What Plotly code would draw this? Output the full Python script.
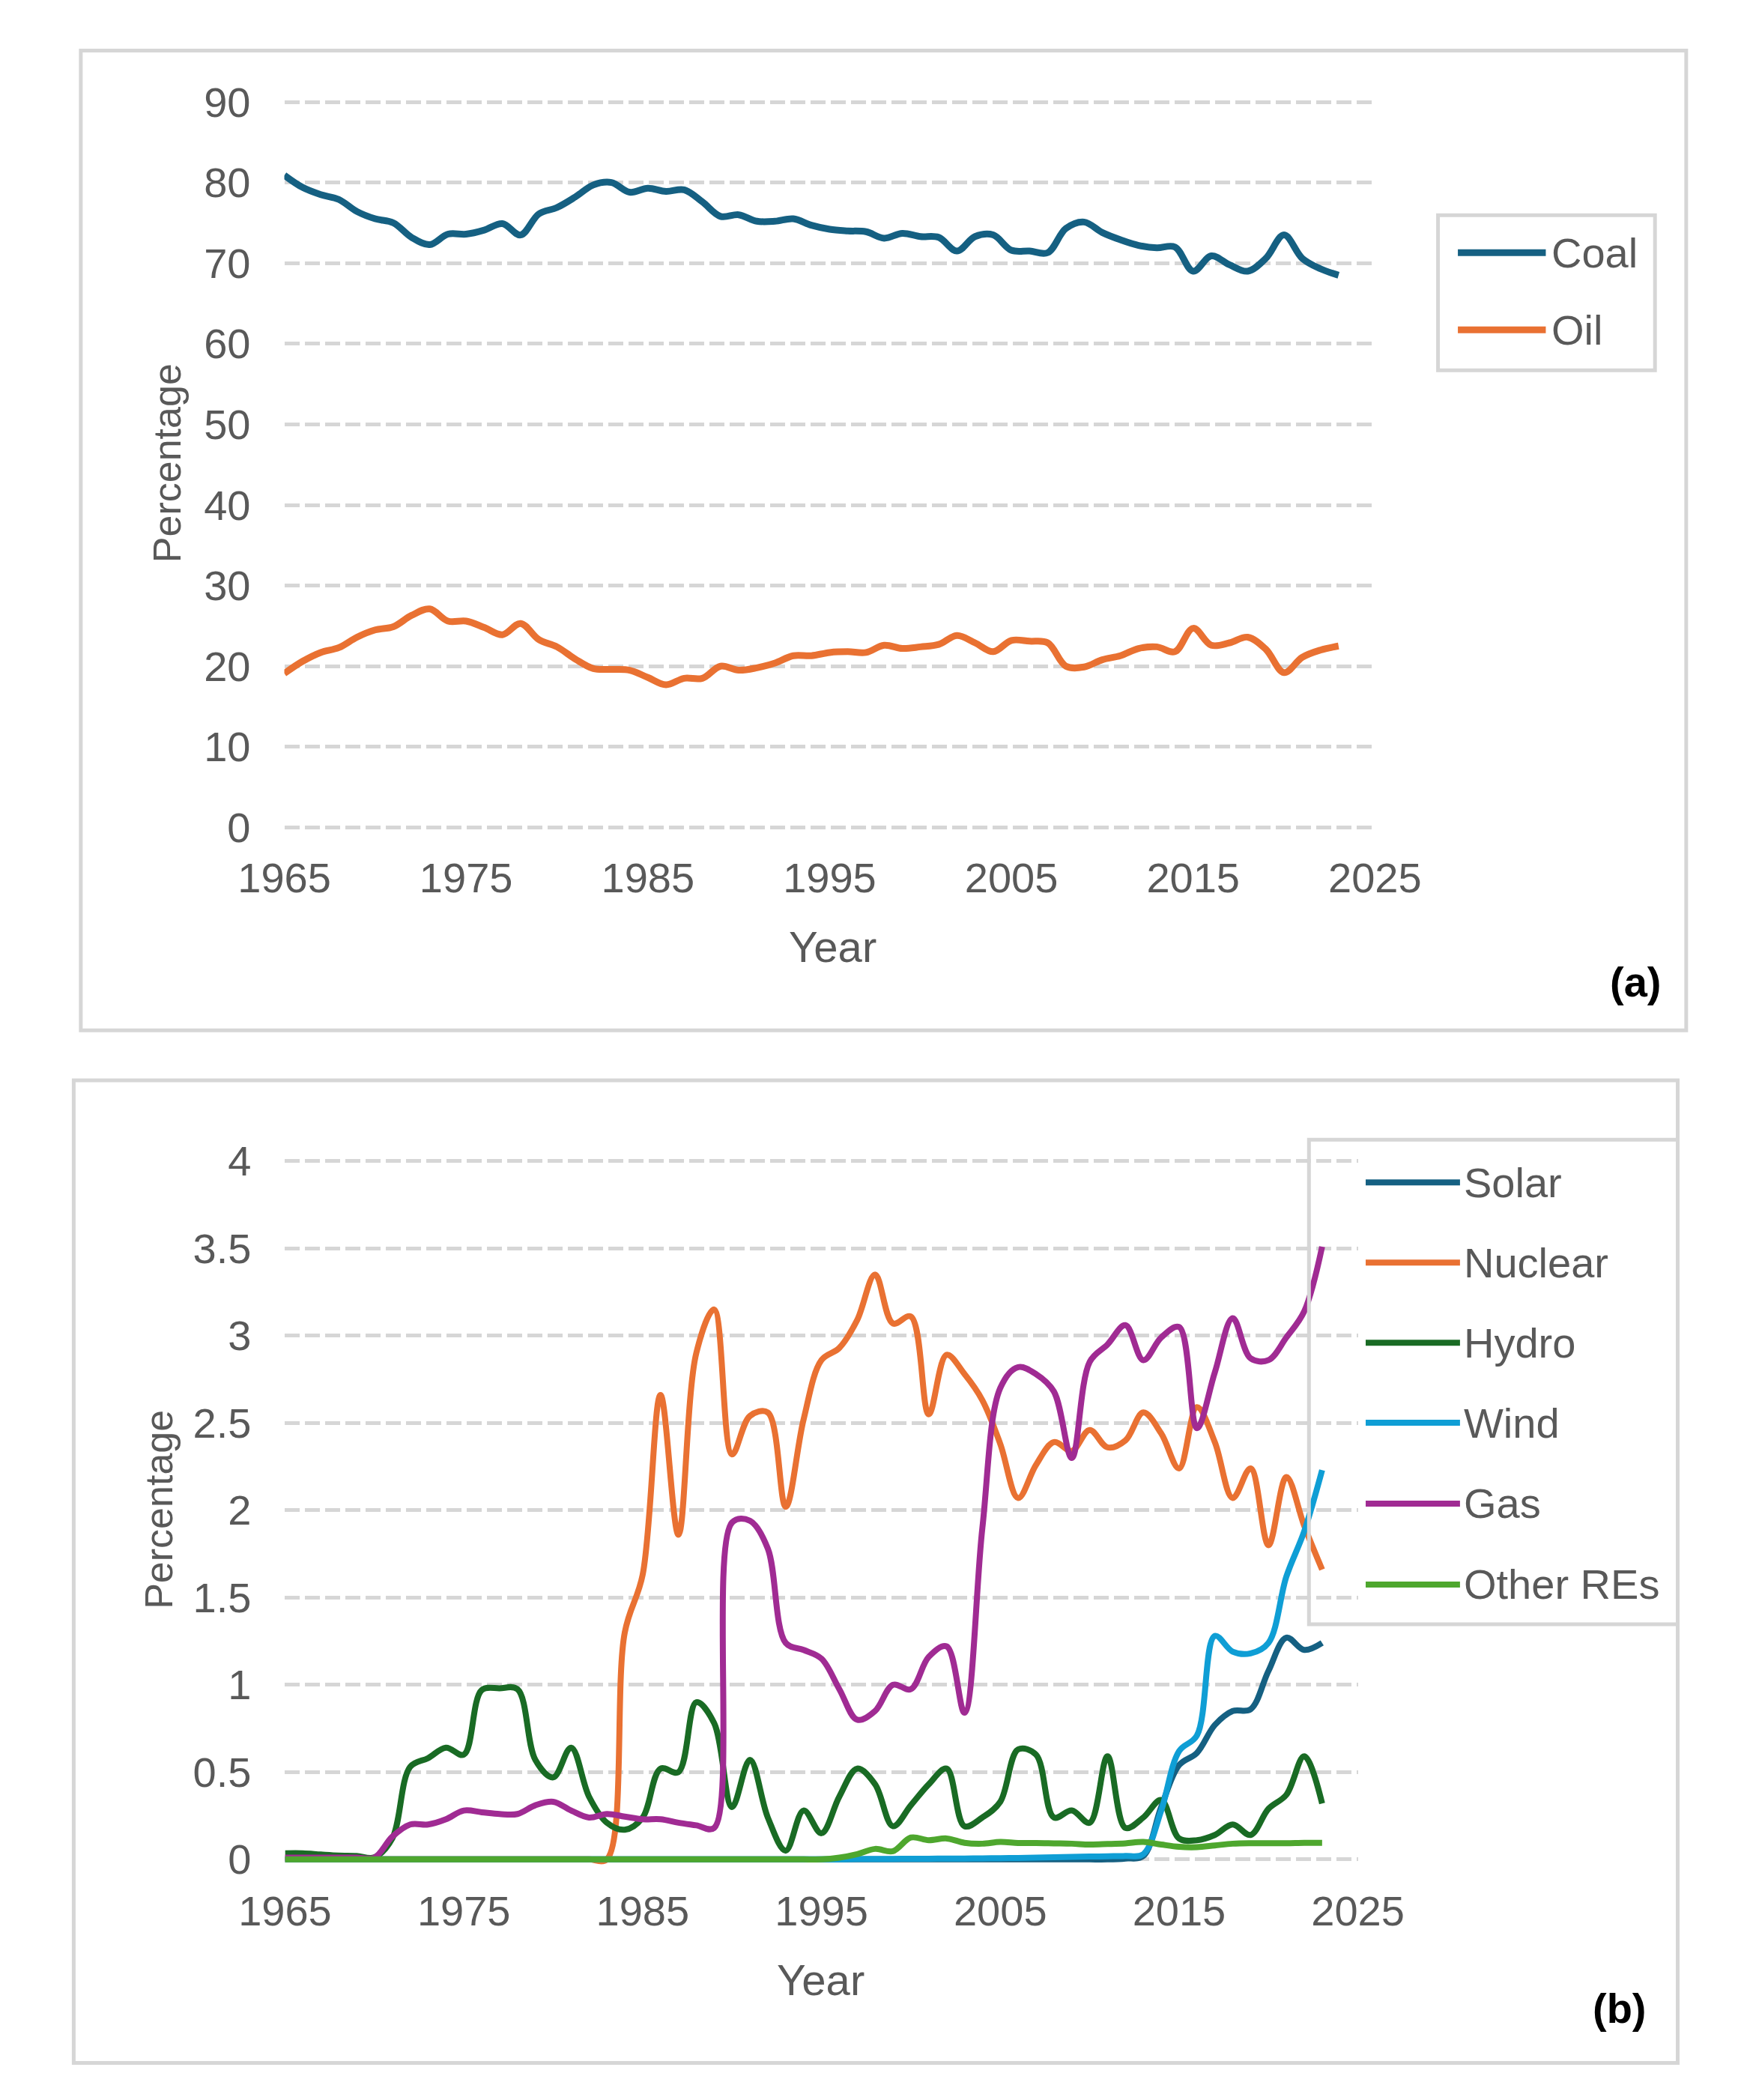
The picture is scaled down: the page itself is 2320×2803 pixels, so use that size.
import plotly.graph_objects as go

# ---- data ----
years = list(range(1965, 2024))

coal = [80.9, 79.4, 78.5, 77.9, 76.4, 75.5, 75.0, 73.2, 72.3, 73.6,
        73.6, 74.1, 74.9, 73.5, 76.1, 76.9, 78.2, 79.7, 80.0, 78.8,
        79.3, 78.9, 79.1, 77.6, 75.8, 76.0, 75.2, 75.2, 75.5, 74.7,
        74.2, 74.0, 73.9, 73.1, 73.7, 73.3, 73.2, 71.5, 73.3, 73.5,
        71.6, 71.5, 71.3, 74.3, 75.1, 73.8, 72.9, 72.2, 71.9, 72.0,
        69.0, 70.9, 69.8, 69.0, 70.6, 73.5, 70.6, 69.3, 68.5]
oil = [19.1, 20.6, 21.7, 22.3, 23.6, 24.5, 24.9, 26.3, 27.1, 25.6,
       25.6, 24.8, 23.9, 25.3, 23.3, 22.4, 20.9, 19.7, 19.6, 19.5,
       18.6, 17.7, 18.5, 18.5, 20.0, 19.5, 19.8, 20.4, 21.3, 21.3,
       21.7, 21.8, 21.7, 22.6, 22.2, 22.4, 22.7, 23.8, 22.9, 21.8,
       23.2, 23.1, 22.9, 20.0, 19.9, 20.8, 21.3, 22.2, 22.4, 21.8,
       24.7, 22.6, 22.9, 23.6, 22.1, 19.2, 21.1, 22.0, 22.5]

solar = [0] * 47 + [0.005, 0.02, 0.30, 0.54, 0.61, 0.77, 0.85, 0.86,
                    1.08, 1.27, 1.20, 1.24]
nuclear = [0] * 19 + [1.30, 1.63, 2.66, 1.86, 2.90, 3.15, 2.32, 2.54,
                      2.56, 2.02, 2.52, 2.86, 2.93, 3.09, 3.35, 3.07,
                      3.11, 2.55, 2.89, 2.78, 2.63, 2.38, 2.07, 2.26,
                      2.39, 2.34, 2.46, 2.36, 2.40, 2.56, 2.44, 2.24,
                      2.59, 2.39, 2.07, 2.24, 1.80, 2.19, 1.91, 1.66]
hydro = [0.035, 0.035, 0.028, 0.022, 0.02, 0.012, 0.12, 0.53, 0.58, 0.64,
         0.60, 0.97, 0.98, 0.975, 0.57, 0.47, 0.64, 0.36, 0.21, 0.17,
         0.24, 0.52, 0.50, 0.90, 0.78, 0.30, 0.57, 0.24, 0.05, 0.28,
         0.15, 0.36, 0.52, 0.43, 0.19, 0.31, 0.43, 0.52, 0.19, 0.24,
         0.33, 0.63, 0.60, 0.24, 0.28, 0.21, 0.59, 0.18, 0.24, 0.34,
         0.12, 0.11, 0.14, 0.20, 0.14, 0.29, 0.37, 0.59, 0.32]
wind = [0] * 32 + [0.002, 0.003, 0.003, 0.004, 0.004, 0.005, 0.005, 0.006,
                   0.007, 0.008, 0.01, 0.012, 0.014, 0.016, 0.018, 0.02,
                   0.03, 0.28, 0.62, 0.71, 1.28, 1.19, 1.18, 1.24, 1.62,
                   1.88, 2.23]
gas = [0.01, 0.01, 0.01, 0.01, 0.01, 0.01, 0.13, 0.20, 0.20, 0.23,
       0.28, 0.27, 0.26, 0.26, 0.31, 0.33, 0.28, 0.24, 0.26, 0.245,
       0.23, 0.23, 0.21, 0.195, 0.18, 1.93, 1.94, 1.78, 1.24, 1.20,
       1.15, 0.975, 0.80, 0.85, 1.00, 0.975, 1.16, 1.22, 0.84, 1.90,
       2.70, 2.82, 2.78, 2.68, 2.30, 2.85, 2.95, 3.06, 2.86, 2.99,
       3.05, 2.47, 2.79, 3.10, 2.87, 2.86, 2.99, 3.14, 3.51]
other_res = [0] * 31 + [0.01, 0.03, 0.06, 0.047, 0.125, 0.11, 0.12, 0.095,
                        0.09, 0.10, 0.094, 0.094, 0.092, 0.09, 0.085, 0.088,
                        0.092, 0.10, 0.085, 0.072, 0.07, 0.08, 0.09, 0.093,
                        0.093, 0.093, 0.095, 0.095]

names_a = ["Coal", "Oil"]
series_a = [coal, oil]
colors_a = ["#156082", "#E97132"]

names_b = ["Solar", "Nuclear", "Hydro", "Wind", "Gas", "Other REs"]
series_b = [solar, nuclear, hydro, wind, gas, other_res]
colors_b = ["#156082", "#E97132", "#196B24", "#0F9ED5", "#A02B93", "#4EA72E"]

# ---- page geometry (pixels) ----
W, H = 2320, 2803
FONT = "Liberation Sans, Arial, sans-serif"
GREY = "#595959"
GRID = "#D6D6D6"


def px(x):
    return x / W


def py(y):
    return 1 - y / H


fig = go.Figure()

for name, vals, col in zip(names_a, series_a, colors_a):
    fig.add_trace(go.Scatter(x=years, y=vals, name=name, mode="lines",
                             line=dict(color=col, width=9, shape="spline", smoothing=1),
                             xaxis="x", yaxis="y", showlegend=False))

for name, vals, col in zip(names_b, series_b, colors_b):
    fig.add_trace(go.Scatter(x=years, y=vals, name=name, mode="lines",
                             line=dict(color=col, width=8, shape="spline", smoothing=1),
                             xaxis="x2", yaxis="y2", showlegend=False))

xcommon = dict(range=[1965, 2025], tickvals=list(range(1965, 2026, 10)),
               showgrid=False, zeroline=False, showline=False, ticks="",
               tickfont=dict(family=FONT, size=56, color=GREY),
               ticklabelstandoff=24)
ycommon = dict(showgrid=True, gridcolor=GRID, gridwidth=5, griddash="20px,7px",
               zeroline=False, showline=False, ticks="",
               tickfont=dict(family=FONT, size=56, color=GREY),
               ticklabelstandoff=44)

# panel (a): 1965 -> 327px, 2025 -> 1865px ; 0 -> 1090px, 90 -> 103px
ua = (1090 - 103) / 90
fig.update_layout(
    xaxis=dict(domain=[px(327), px(1865)], anchor="y", **xcommon),
    yaxis=dict(domain=[py(1090 + 0.5 * ua), py(103 - 0.5 * ua)], anchor="x",
               range=[-0.5, 90.5], tickvals=list(range(0, 91, 10)), **ycommon),
)

# panel (b): 1965 -> 328px, 2025 -> 1841px ; 0 -> 2494px, 4 -> 1544px
ub = (2494 - 1544) / 4
fig.update_layout(
    xaxis2=dict(domain=[px(328), px(1841)], anchor="y2", **xcommon),
    yaxis2=dict(domain=[py(2494 + 0.03 * ub), py(1544 - 0.02 * ub)], anchor="x2",
                range=[-0.03, 4.02], tickvals=[0, 0.5, 1, 1.5, 2, 2.5, 3, 3.5, 4],
                ticktext=["0", "0.5", "1", "1.5", "2", "2.5", "3", "3.5", "4"],
                **ycommon),
)

shapes = []
annotations = []

# panel frames
for x0, y0, x1, y1 in [(40, 33, 2304, 1366), (30, 1434, 2292, 2771)]:
    shapes.append(dict(type="rect", xref="paper", yref="paper",
                       x0=px(x0), x1=px(x1), y0=py(y1), y1=py(y0),
                       line=dict(color=GRID, width=5), fillcolor="rgba(0,0,0,0)",
                       layer="below"))

# legend boxes
for x0, y0, x1, y1 in [(1954, 257, 2260, 468), (1772, 1515, 2292, 2174)]:
    shapes.append(dict(type="rect", xref="paper", yref="paper",
                       x0=px(x0), x1=px(x1), y0=py(y1), y1=py(y0),
                       line=dict(color=GRID, width=5), fillcolor="rgba(0,0,0,0)"))

# legend entries
legend_a_y = [308, 413]
for name, col, yy in zip(names_a, colors_a, legend_a_y):
    shapes.append(dict(type="line", xref="paper", yref="paper",
                       x0=px(1982), x1=px(2106), y0=py(yy), y1=py(yy),
                       line=dict(color=col, width=9)))
    annotations.append(dict(text=name, xref="paper", yref="paper",
                            x=px(2112), y=py(yy), xanchor="left", yanchor="middle",
                            showarrow=False,
                            font=dict(family=FONT, size=56, color=GREY)))

legend_b_y = [1573, 1682, 1791, 1900, 2010, 2120]
for name, col, yy in zip(names_b, colors_b, legend_b_y):
    shapes.append(dict(type="line", xref="paper", yref="paper",
                       x0=px(1852), x1=px(1985), y0=py(yy), y1=py(yy),
                       line=dict(color=col, width=8)))
    annotations.append(dict(text=name, xref="paper", yref="paper",
                            x=px(1988), y=py(yy), xanchor="left", yanchor="middle",
                            showarrow=False,
                            font=dict(family=FONT, size=56, color=GREY)))

# axis titles and panel letters
for text, x, y, angle, fnt in [
    ("Year", 1100, 1252, 0, dict(family=FONT, size=58, color=GREY)),
    ("Year", 1083, 2658, 0, dict(family=FONT, size=58, color=GREY)),
    ("Percentage", 161, 594, -90, dict(family=FONT, size=52, color=GREY)),
    ("Percentage", 150, 2018, -90, dict(family=FONT, size=52, color=GREY)),
    ("<b>(a)</b>", 2232, 1300, 0, dict(family=FONT, size=56, color="#000000")),
    ("<b>(b)</b>", 2210, 2696, 0, dict(family=FONT, size=56, color="#000000")),
]:
    annotations.append(dict(text=text, xref="paper", yref="paper", x=px(x), y=py(y),
                            xanchor="center", yanchor="middle", textangle=angle,
                            showarrow=False, font=fnt))

fig.update_layout(width=W, height=H, margin=dict(l=0, r=0, t=0, b=0),
                  paper_bgcolor="white", plot_bgcolor="white",
                  shapes=shapes, annotations=annotations, showlegend=False)

fig.write_html("out.html")
